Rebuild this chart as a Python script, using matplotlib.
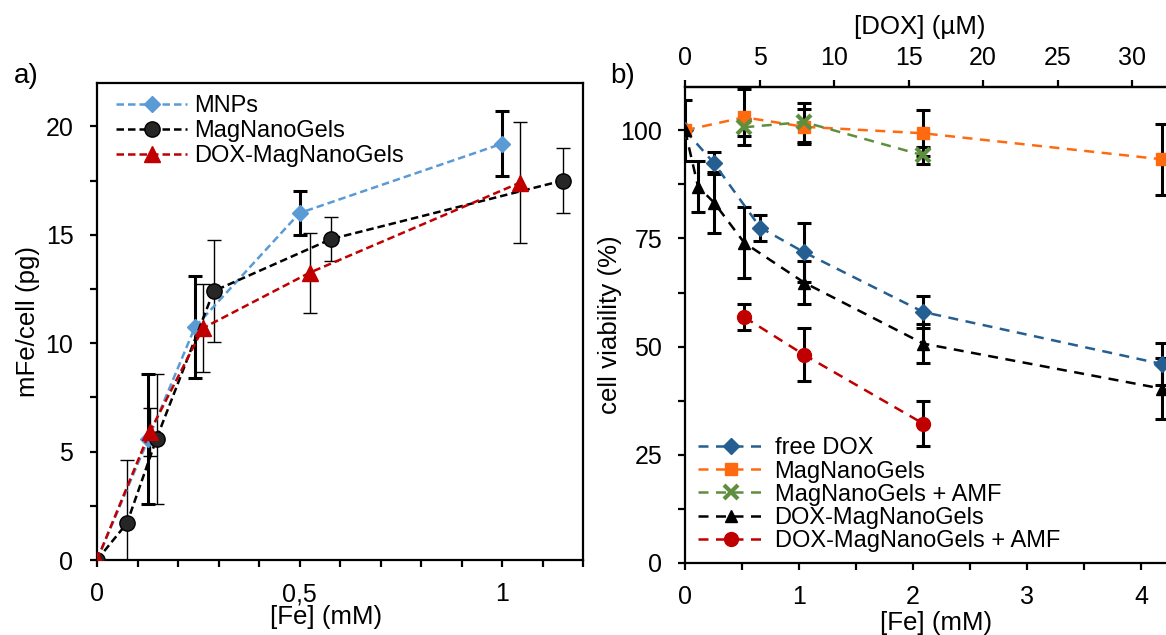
import matplotlib
matplotlib.use("Agg")
import matplotlib.pyplot as plt
from matplotlib.ticker import MultipleLocator, FixedLocator, FuncFormatter

plt.rcParams['font.family'] = ['Liberation Sans', 'DejaVu Sans']
plt.rcParams['font.size'] = 17

# ---- panel a data: iron uptake ----
mnp_fe = [0, 0.127, 0.242, 0.5, 1.0]
mnp_m = [0, 5.6, 10.75, 16.0, 19.2]
mnp_err = [0, 3.0, 2.35, 1.0, 1.5]

mng_fe = [0, 0.074, 0.147, 0.288, 0.578, 1.15]
mng_m = [0, 1.7, 5.6, 12.4, 14.8, 17.5]
mng_err = [0, 2.9, 3.0, 2.35, 1.0, 1.5]

dox_mng_fe = [0, 0.13, 0.262, 0.525, 1.044]
dox_mng_m = [0, 5.9, 10.7, 13.25, 17.4]
dox_mng_err = [0, 1.1, 2.05, 1.85, 2.8]

# ---- panel b data: cell viability ----
dox_per_fe = 7.65  # uM DOX per mM Fe
dox_ticks = [0, 5, 10, 15, 20, 25, 30]

free_dox_fe = [0, 0.254, 0.66, 1.045, 2.09, 4.18]
free_dox_v = [100, 92.4, 77.5, 71.8, 58.0, 46.0]
free_dox_err = [0, 2.5, 3.0, 6.8, 3.8, 4.9]

mng_b_fe = [0, 0.52, 1.045, 2.09, 4.18]
mng_b_v = [100, 103.0, 100.8, 99.3, 93.3]
mng_b_err = [0, 6.5, 4.0, 5.3, 8.2]

mng_amf_fe = [0.52, 1.045, 2.09]
mng_amf_v = [100.7, 101.9, 94.2]
mng_amf_err = [2.0, 4.5, 2.0]

dox_b_fe = [0, 0.114, 0.254, 0.52, 1.045, 2.09, 4.18]
dox_b_v = [100, 87.0, 83.3, 74.0, 64.8, 50.7, 40.3]
dox_b_err = [7.0, 5.8, 7.0, 8.2, 4.9, 4.5, 7.0]

dox_amf_fe = [0.52, 1.045, 2.09]
dox_amf_v = [56.8, 48.1, 32.2]
dox_amf_err = [3.0, 6.1, 5.2]

fig = plt.figure(figsize=(11.66, 6.35), dpi=100)

# ================= panel a =================
ax1 = fig.add_axes([0.0832, 0.1181, 0.4168, 0.7512])
dash_a = (3, 1.6)

ax1.errorbar(mnp_fe, mnp_m, yerr=mnp_err, fmt='none', ecolor='black', elinewidth=2.2, capsize=5, capthick=2.2, zorder=2)
ax1.errorbar(mng_fe, mng_m, yerr=mng_err, fmt='none', ecolor='black', elinewidth=1.0, capsize=5, capthick=1.0, zorder=2)
ax1.errorbar(dox_mng_fe, dox_mng_m, yerr=dox_mng_err, fmt='none', ecolor='black', elinewidth=1.0, capsize=5, capthick=1.0, zorder=2)

ax1.plot(mnp_fe, mnp_m, color='#5B9BD5', ls='--', dashes=dash_a, lw=1.8, marker='D', ms=8, mfc='#5B9BD5', mec='#5B9BD5', label='MNPs', zorder=3)
ax1.plot(mng_fe, mng_m, color='black', ls='--', dashes=dash_a, lw=1.8, marker='o', ms=11, mfc='#262626', mec='black', label='MagNanoGels', zorder=3)
ax1.plot(dox_mng_fe, dox_mng_m, color='#C00000', ls='--', dashes=dash_a, lw=1.8, marker='^', ms=11, mfc='#C00000', mec='#C00000', label='DOX-MagNanoGels', zorder=4)

ax1.set_xlim(0, 1.2)
ax1.set_ylim(0, 22)
ax1.xaxis.set_major_locator(MultipleLocator(0.5))
ax1.xaxis.set_minor_locator(MultipleLocator(0.1))
ax1.yaxis.set_major_locator(MultipleLocator(5))
ax1.yaxis.set_minor_locator(MultipleLocator(2.5))
ax1.xaxis.set_major_formatter(FuncFormatter(lambda v, p: ('%g' % v).replace('.', ',')))
ax1.tick_params(which='both', direction='out', length=5, width=1.6, labelsize=18)
ax1.tick_params(axis='y', pad=12)
ax1.tick_params(axis='x', pad=11)
for s in ax1.spines.values():
    s.set_linewidth(1.6)
ax1.set_xlabel('[Fe] (mM)', fontsize=18.6, labelpad=0)
ax1.xaxis.set_label_coords(0.471, -0.095)
ax1.set_ylabel('mFe/cell (pg)', fontsize=18.6, labelpad=4)
ax1.legend(loc='upper left', frameon=False, fontsize=17, handlelength=3.0, handletextpad=0.3,
           labelspacing=0.13, borderaxespad=0.0, bbox_to_anchor=(0.02, 0.995))
fig.text(0.012, 0.87, 'a)', fontsize=20)

# ================= panel b =================
ax2 = fig.add_axes([0.5875, 0.1134, 0.4302, 0.7496])
dash_b = (4, 3)

eb = dict(fmt='none', ecolor='black', elinewidth=2.2, capsize=5, capthick=2.2, zorder=2)
ax2.errorbar(free_dox_fe, free_dox_v, yerr=free_dox_err, **eb)
ax2.errorbar(mng_b_fe, mng_b_v, yerr=mng_b_err, **eb)
ax2.errorbar(mng_amf_fe, mng_amf_v, yerr=mng_amf_err, **eb)
ax2.errorbar(dox_b_fe, dox_b_v, yerr=dox_b_err, **eb)
ax2.errorbar(dox_amf_fe, dox_amf_v, yerr=dox_amf_err, **eb)

ax2.plot(free_dox_fe, free_dox_v, color='#255E91', ls='--', dashes=dash_b, lw=1.8, marker='D', ms=8, mfc='#255E91', mec='#255E91', label='free DOX', zorder=3)
ax2.plot(mng_b_fe, mng_b_v, color='#FF6A10', ls='--', dashes=dash_b, lw=1.8, marker='s', ms=9, mfc='#FF6A10', mec='#FF6A10', label='MagNanoGels', zorder=3)
ax2.plot(mng_amf_fe, mng_amf_v, color='#5F8F3E', ls='--', dashes=dash_b, lw=1.8, marker='x', ms=10, mew=3, mec='#5F8F3E', label='MagNanoGels + AMF', zorder=4)
ax2.plot(dox_b_fe, dox_b_v, color='black', ls='--', dashes=dash_b, lw=1.8, marker='^', ms=8, mfc='black', mec='black', label='DOX-MagNanoGels', zorder=3)
ax2.plot(dox_amf_fe, dox_amf_v, color='#C00000', ls='--', dashes=dash_b, lw=1.8, marker='o', ms=10, mfc='#C00000', mec='#C00000', label='DOX-MagNanoGels + AMF', zorder=3)

ax2.set_xlim(0, 4.4)
ax2.set_ylim(0, 110)
ax2.xaxis.set_major_locator(FixedLocator([0, 1, 2, 3, 4]))
ax2.xaxis.set_minor_locator(FixedLocator([0.5, 1.5, 2.5, 3.5]))
ax2.yaxis.set_major_locator(MultipleLocator(25))
ax2.yaxis.set_minor_locator(MultipleLocator(12.5))
ax2.tick_params(which='both', direction='out', length=5, width=1.6, labelsize=18)
ax2.tick_params(axis='y', pad=11.5)
ax2.tick_params(axis='x', pad=11)
ax2.spines['right'].set_visible(False)
for s in ['left', 'bottom', 'top']:
    ax2.spines[s].set_linewidth(1.6)
ax2.set_xlabel('[Fe] (mM)', fontsize=18.6, labelpad=5)
ax2.xaxis.set_label_coords(0.5, -0.1)
ax2.set_ylabel('cell viability (%)', fontsize=18.6, labelpad=-1)
ax2.legend(loc='lower left', frameon=False, fontsize=17, handlelength=2.75, handletextpad=0.47,
           labelspacing=0.05, borderaxespad=0.0, bbox_to_anchor=(0.008, 0.003))

top = ax2.secondary_xaxis('top', functions=(lambda x: x * dox_per_fe, lambda x: x / dox_per_fe))
top.xaxis.set_major_locator(FixedLocator(dox_ticks))
top.tick_params(direction='out', length=5, width=1.6, labelsize=18, pad=7)
top.spines['top'].set_linewidth(1.6)
fig.text(0.789, 0.957, '[DOX] (µM)', fontsize=18.6, ha='center', va='center')
fig.text(0.523, 0.87, 'b)', fontsize=20)

fig.savefig('out.png', dpi=100)
